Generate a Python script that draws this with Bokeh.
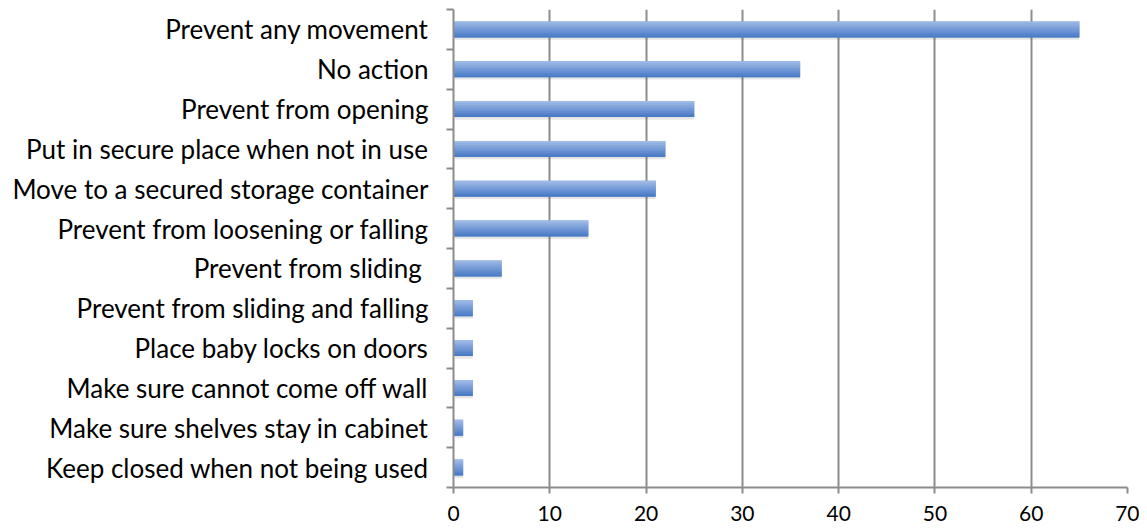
from bokeh.plotting import figure
from bokeh.models import FixedTicker, Range1d
from bokeh.embed import file_html
from bokeh.resources import INLINE

categories = [
    "Prevent any movement",
    "No action",
    "Prevent from opening",
    "Put in secure place when not in use",
    "Move to a secured storage container",
    "Prevent from loosening or falling",
    "Prevent from sliding ",
    "Prevent from sliding and falling",
    "Place baby locks on doors",
    "Make sure cannot come off wall",
    "Make sure shelves stay in cabinet",
    "Keep closed when not being used",
]
values = [65, 36, 25, 22, 21, 14, 5, 2, 2, 2, 1, 1]
x_ticks = [0, 10, 20, 30, 40, 50, 60, 70]

n = len(categories)
centers = [n - 0.5 - i for i in range(n)]
FONT = "Lato"

p = figure(width=1139, height=531, output_backend="svg", toolbar_location=None,
           x_range=Range1d(0, 70), y_range=Range1d(0, n),
           min_border_left=453, min_border_right=12, min_border_top=9, min_border_bottom=44)
p.outline_line_color = None
p.background_fill_color = "white"
p.border_fill_color = "white"

# shadow
p.hbar(y=[c - 0.06 for c in centers], right=values, left=0.12, height=0.4,
       fill_color="#000000", fill_alpha=0.10, line_color=None)

# gradient bars via slices
bh = 0.4
top_col = (0x9d, 0xb9, 0xe6)
bot_col = (0x4a, 0x7b, 0xc6)
p.hbar(y=centers, right=values, left=0, height=bh, fill_color="#6f97d5", line_color=None)
N = 8
for k in range(N):
    t = k / (N - 1)
    col = "#%02x%02x%02x" % tuple(int(round(a + (b - a) * t)) for a, b in zip(top_col, bot_col))
    top = [c + bh / 2 - bh / N * k for c in centers]
    bottom = [c + bh / 2 - bh / N * (k + 1) - (0.01 if k < N - 1 else 0) for c in centers]
    p.quad(top=top, bottom=bottom, right=values, left=[0] * n, fill_color=col, line_color=None)

# x axis
p.xaxis.ticker = FixedTicker(ticks=x_ticks)
p.xaxis.axis_line_color = "#8c8c8c"
p.xaxis.axis_line_width = 2
p.xaxis.major_tick_line_color = "#8c8c8c"
p.xaxis.major_tick_line_width = 2
p.xaxis.major_tick_out = 6
p.xaxis.major_tick_in = 0
p.xaxis.minor_tick_line_color = None
p.xaxis.major_label_text_font = FONT
p.xaxis.major_label_text_font_size = "21px"
p.xaxis.major_label_text_color = "black"
p.xaxis.major_label_standoff = 12

p.xgrid.ticker = FixedTicker(ticks=x_ticks)
p.xgrid.grid_line_color = "#8c8c8c"
p.xgrid.grid_line_width = 2
p.ygrid.grid_line_color = None

# y axis
p.yaxis.ticker = FixedTicker(ticks=centers, minor_ticks=list(range(n + 1)))
p.yaxis.major_label_overrides = {c: lab for c, lab in zip(centers, categories)}
p.yaxis.axis_line_color = "#8c8c8c"
p.yaxis.axis_line_width = 2
p.yaxis.major_tick_line_color = None
p.yaxis.minor_tick_line_color = "#8c8c8c"
p.yaxis.minor_tick_line_width = 2
p.yaxis.minor_tick_out = 7
p.yaxis.minor_tick_in = 0
p.yaxis.major_label_text_font = FONT
p.yaxis.major_label_text_font_size = "26px"
p.yaxis.major_label_text_color = "black"
p.yaxis.major_label_standoff = 18

open("out.html", "w").write(file_html(p, INLINE))
